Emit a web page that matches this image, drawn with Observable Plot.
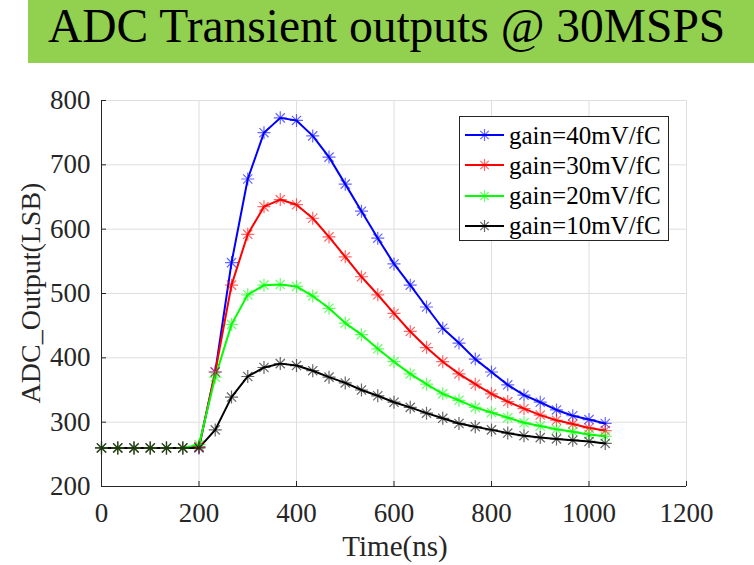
<!DOCTYPE html>
<html>
<head>
<meta charset="utf-8">
<script src="https://cdn.jsdelivr.net/npm/d3@7"></script>
<script src="https://cdn.jsdelivr.net/npm/@observablehq/plot@0.6"></script>
<style>
  html, body { margin: 0; padding: 0; background: #ffffff; }
  #wrap { position: relative; width: 754px; height: 565px; overflow: hidden; font-family: "Liberation Serif", "Times New Roman", Times, Tinos, "DejaVu Serif", serif; }
  #banner { position: absolute; left: 28px; top: 0; width: 726px; height: 63px; background: #92d050; }
  #title { position: absolute; left: 48px; top: 3px; font-size: 47.5px; line-height: 1; color: #000; white-space: nowrap; }
  #chart { position: absolute; left: 0; top: 63px; }
  #ylabel { position: absolute; left: 31px; top: 293px; transform: translate(-50%, -50%) rotate(-90deg); font-size: 28px; line-height: 1; color: #262626; white-space: nowrap; }
  #xlabel { position: absolute; left: 395px; top: 532px; transform: translateX(-50%); font-size: 29px; line-height: 1; color: #262626; white-space: nowrap; }
  #legend { position: absolute; left: 459px; top: 116px; width: 208px; height: 123px; border: 1px solid #262626; background: #ffffff; }
  .row { position: absolute; left: 0; height: 30px; display: flex; align-items: center; }
  .row svg { margin-left: 5px; }
  .row span { margin-left: 5px; font-size: 25px; color: #000; white-space: nowrap; line-height: 1; }
</style>
</head>
<body>
<div id="wrap">
  <div id="banner"></div>
  <div id="title">ADC Transient outputs @ 30MSPS</div>
  <div id="chart"></div>
  <div id="ylabel">ADC_Output(LSB)</div>
  <div id="xlabel">Time(ns)</div>
  <div id="legend"></div>
</div>
<script>
// Sample times (ns), 30 MSPS
const times = [0, 33.3, 66.7, 100, 133.3, 166.7, 200, 233.3, 266.7, 300, 333.3, 366.7, 400, 433.3, 466.7, 500,
  533.3, 566.7, 600, 633.3, 666.7, 700, 733.3, 766.7, 800, 833.3, 866.7, 900, 933.3, 966.7, 1000, 1033.3];

const seriesNames = ["gain=40mV/fC", "gain=30mV/fC", "gain=20mV/fC", "gain=10mV/fC"];
const seriesColors = ["#0000ff", "#ff0000", "#00ff00", "#000000"];

const gain40 = [260, 260, 260, 260, 260, 260, 261, 378, 548, 678, 750, 773, 769, 745, 712, 670,
  628, 586, 546, 513, 479, 446, 423, 398, 378, 358, 342, 331, 319, 310, 304, 298];
const gain30 = [260, 260, 260, 260, 260, 260, 262, 378, 513, 592, 635, 646, 638, 617, 588, 557,
  526, 498, 469, 441, 416, 394, 375, 359, 344, 332, 321, 311, 303, 297, 291, 287];
const gain20 = [260, 260, 260, 260, 260, 260, 265, 370, 452, 498, 513, 514, 511, 496, 477, 454,
  436, 414, 394, 375, 359, 344, 334, 323, 315, 307, 299, 294, 289, 285, 281, 278];
const gain10 = [260, 260, 260, 260, 260, 260, 260, 288, 339, 371, 385, 391, 388, 380, 370, 361,
  350, 341, 331, 323, 314, 306, 298, 293, 288, 283, 279, 276, 274, 272, 270, 267];

const xTicks = [0, 200, 400, 600, 800, 1000, 1200];
const yTicks = [200, 300, 400, 500, 600, 700, 800];

const allValues = [gain40, gain30, gain20, gain10];
const data = [];
allValues.forEach((vals, i) => {
  vals.forEach((v, k) => data.push({t: times[k], v, s: seriesNames[i]}));
});

// MATLAB-like 8-armed asterisk marker
const asterisk8 = {
  draw(ctx, size) {
    const r = Math.sqrt(size / Math.PI);
    const d = r * Math.SQRT1_2;
    ctx.moveTo(0, -r); ctx.lineTo(0, r);
    ctx.moveTo(-r, 0); ctx.lineTo(r, 0);
    ctx.moveTo(-d, -d); ctx.lineTo(d, d);
    ctx.moveTo(-d, d); ctx.lineTo(d, -d);
  }
};

const serifStack = "'Liberation Serif', 'Times New Roman', Times, Tinos, 'DejaVu Serif', serif";

const chart = Plot.plot({
  width: 754,
  height: 502,
  marginTop: 37,
  marginBottom: 79,
  marginLeft: 101,
  marginRight: 68,
  style: {fontFamily: serifStack, fontSize: "27px", color: "#262626", background: "transparent", overflow: "visible"},
  x: {domain: [0, 1200]},
  y: {domain: [200, 800]},
  color: {domain: seriesNames, range: seriesColors},
  marks: [
    Plot.gridX(xTicks, {stroke: "#dedede", strokeOpacity: 1, strokeWidth: 1}),
    Plot.gridY(yTicks, {stroke: "#dedede", strokeOpacity: 1, strokeWidth: 1}),
    Plot.line(data, {x: "t", y: "v", z: "s", stroke: "s", strokeWidth: 2}),
    Plot.dot(data, {x: "t", y: "v", stroke: "s", symbol: asterisk8, r: 6.5, fill: "none", strokeWidth: 1.2, strokeOpacity: 0.6}),
    Plot.axisX(xTicks, {tickSize: -5, tickPadding: 21, label: null, stroke: "#262626", fill: "#262626", fontSize: 27, tickFormat: d => String(d)}),
    Plot.axisY(yTicks, {tickSize: -5, tickPadding: 16, label: null, stroke: "#262626", fill: "#262626", fontSize: 27, tickFormat: d => String(d)}),
    Plot.ruleX([0], {stroke: "#262626"}),
    Plot.ruleY([200], {stroke: "#262626"})
  ]
});
chart.style.fontFamily = serifStack;
document.getElementById("chart").appendChild(chart);

// Legend
const legend = document.getElementById("legend");
seriesNames.forEach((name, i) => {
  const row = document.createElement("div");
  row.className = "row";
  row.style.top = (3 + i * 30.3) + "px";
  const c = seriesColors[i];
  row.innerHTML =
    `<svg width="39" height="14" viewBox="0 0 39 14">
      <line x1="0" y1="7" x2="39" y2="7" stroke="${c}" stroke-width="2"/>
      <g stroke="${c}" stroke-opacity="0.6" stroke-width="1.2">
        <line x1="19.5" y1="1" x2="19.5" y2="13"/>
        <line x1="13.5" y1="7" x2="25.5" y2="7"/>
        <line x1="15.3" y1="2.8" x2="23.7" y2="11.2"/>
        <line x1="15.3" y1="11.2" x2="23.7" y2="2.8"/>
      </g>
    </svg><span>${name}</span>`;
  legend.appendChild(row);
});
</script>
</body>
</html>
